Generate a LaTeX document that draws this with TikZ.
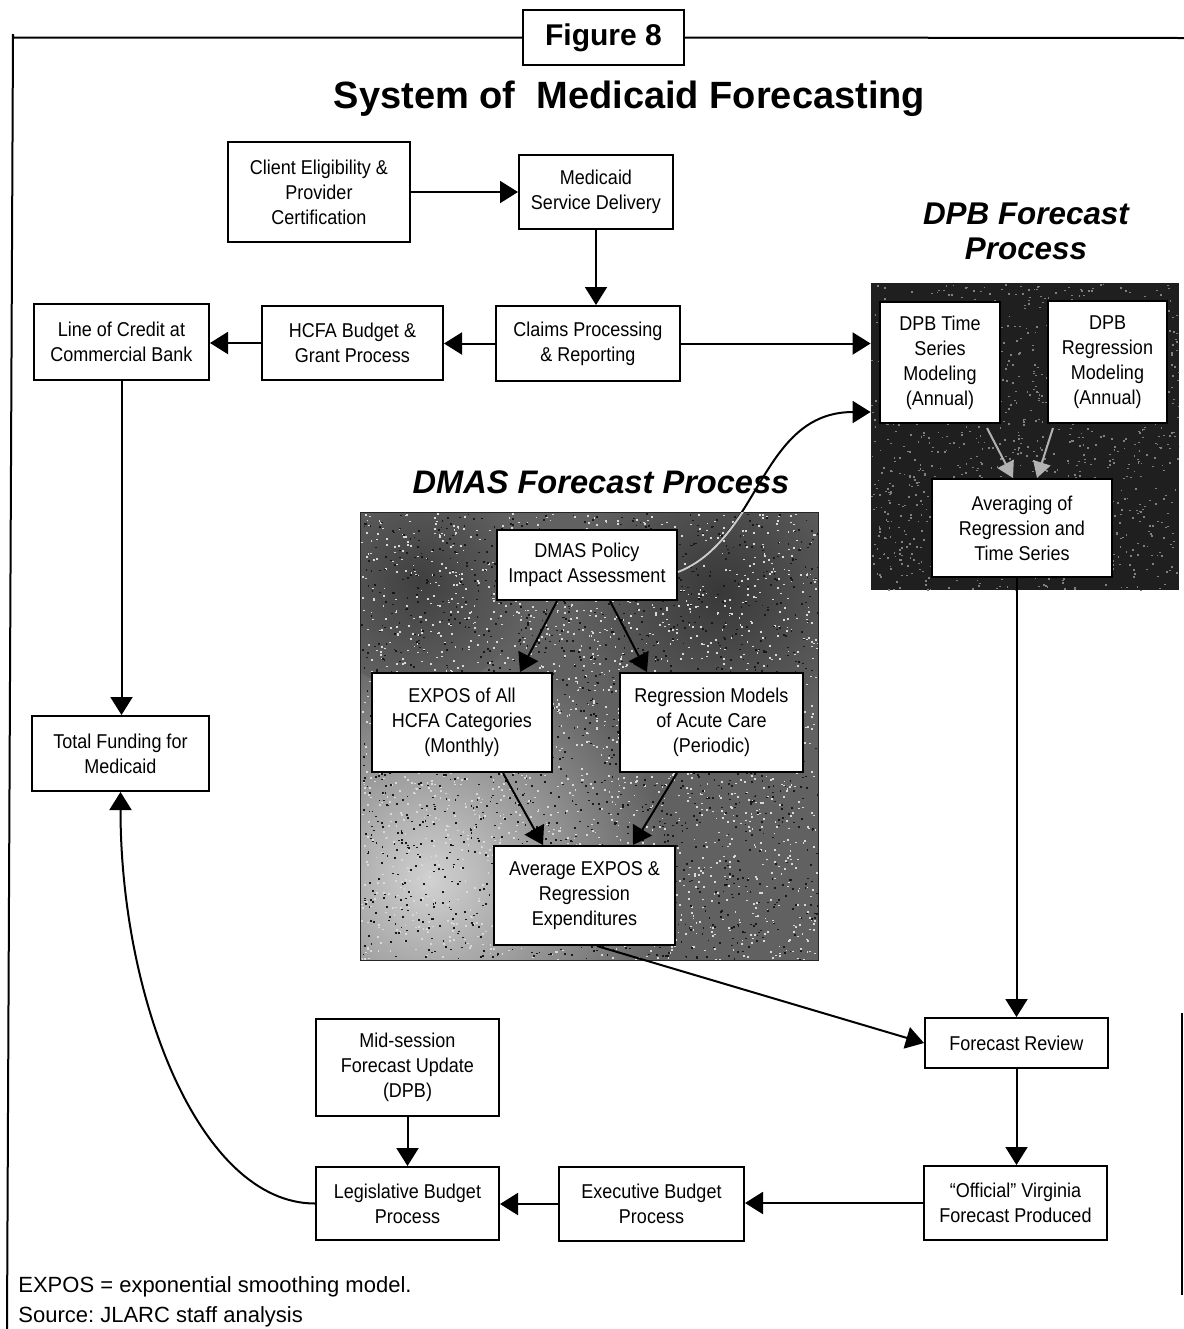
\documentclass[tikz,border=0pt]{standalone}
\usepackage{fontspec}
\setmainfont{Liberation Sans}
\newfontfamily\boxfont{Liberation Sans}[FakeStretch=0.9]
\usetikzlibrary{arrows.meta,calc}
\frenchspacing
\begin{document}
\begin{tikzpicture}[x=0.5pt,y=-0.5pt,
  box/.style={draw,line width=1pt,fill=white,align=center,inner sep=0pt,
    font=\boxfont\fontsize{10}{12.5}\selectfont},
  bx/.style 2 args={box,minimum width=#1*0.5pt,minimum height=#2*0.5pt},
  arr/.style={line width=1pt,-{Triangle[length=9pt,width=11pt]}},
  lightarr/.style={line width=1pt,draw=black!30,-{Triangle[length=8pt,width=9pt,fill=black!30]}},
  frameline/.style={line width=1pt},
  paneln/.style={inner sep=0pt,draw=none}
]
\useasboundingbox (0,0) rectangle (1184,1329);

% ---------- panels ----------
\node[paneln,fill=black!62,minimum width=228.5pt,minimum height=223.5pt] (dmasp) at (589.5,736.5) {};
\begin{scope}
  \clip (dmasp.north west) rectangle (dmasp.south east);
  \shade[inner color=black!18,outer color=black!62] (430,880) circle (240);
  \shade[inner color=black!78,outer color=black!62] (720,590) circle (150);
  \shade[inner color=black!75,outer color=black!62] (420,580) circle (110);
  \pgfmathsetseed{11}
  \foreach \i in {1,...,2200}{
    \pgfmathsetmacro{\rx}{361+457*rnd}
    \pgfmathsetmacro{\ry}{513+447*rnd}
    \fill[white!85!black] (\rx,\ry) rectangle ++(1.8,1.6);
  }
  \foreach \i in {1,...,1800}{
    \pgfmathsetmacro{\rx}{361+457*rnd}
    \pgfmathsetmacro{\ry}{513+447*rnd}
    \fill[black!90] (\rx,\ry) rectangle ++(1.8,1.6);
  }
\end{scope}
\draw[line width=0.8pt,black!85] (dmasp.north west) rectangle (dmasp.south east);

\node[paneln,fill=black!88,minimum width=154pt,minimum height=153.5pt] (dpbp) at (1025,436.5) {};
\begin{scope}
  \clip (dpbp.north west) rectangle (dpbp.south east);
  \pgfmathsetseed{23}
  \foreach \i in {1,...,1200}{
    \pgfmathsetmacro{\rx}{871+308*rnd}
    \pgfmathsetmacro{\ry}{283+307*rnd}
    \fill[white!50!black] (\rx,\ry) rectangle ++(1.8,1.5);
  }
\end{scope}

% ---------- titles ----------
\node[draw,line width=1pt,fill=white,minimum width=80.5pt,minimum height=27.5pt,inner sep=0pt,
  font=\bfseries\fontsize{15}{18}\selectfont] (fig8) at (603.5,37.5) {Figure 8};
\node[font=\bfseries\fontsize{19}{22}\selectfont,anchor=base] (title) at (629.5,108) {System of \ Medicaid Forecasting};
\node[font=\bfseries\itshape\fontsize{16.3}{19}\selectfont,anchor=base] (dmast) at (601,493) {DMAS Forecast Process};
\node[font=\bfseries\itshape\fontsize{15.7}{17.5}\selectfont,align=center] (dpbt) at (1026,231) {DPB Forecast\\Process};

% ---------- boxes ----------
\node[bx={182}{100}] (ce) at (319,192) {Client Eligibility \&\\Provider\\Certification};
\node[bx={154}{74}] (msd) at (596,192) {Medicaid\\Service Delivery};
\node[bx={184}{75}] (cpr) at (588,343.5) {Claims Processing\\\& Reporting};
\node[bx={181}{74}] (hcfa) at (352.5,343) {HCFA Budget \&\\Grant Process};
\node[bx={175}{76}] (loc) at (121.5,342) {Line of Credit at\\Commercial Bank};
\node[bx={120}{121}] (dpbts) at (940,362.5) {DPB Time\\Series\\Modeling\\(Annual)};
\node[bx={119}{122}] (dpbreg) at (1107.5,362) {DPB\\Regression\\Modeling\\(Annual)};
\node[bx={180}{98}] (avg) at (1022,528) {Averaging of\\Regression and\\Time Series};
\node[bx={180}{70}] (pol) at (587,565) {DMAS Policy\\Impact Assessment};
\node[bx={180}{99}] (expos) at (462,722.5) {EXPOS of All\\HCFA Categories\\(Monthly)};
\node[bx={183}{99}] (regm) at (711.5,722.5) {Regression Models\\of Acute Care\\(Periodic)};
\node[bx={181}{99}] (avex) at (584.5,895.5) {Average EXPOS \&\\Regression\\Expenditures};
\node[bx={177}{75}] (tf) at (120.5,753.5) {Total Funding for\\Medicaid};
\node[bx={183}{50}] (fr) at (1016.5,1043) {Forecast Review};
\node[bx={183}{74}] (off) at (1015.5,1203) {“Official” Virginia\\Forecast Produced};
\node[bx={185}{74}] (exe) at (651.5,1204) {Executive Budget\\Process};
\node[bx={183}{73}] (leg) at (407.5,1203.5) {Legislative Budget\\Process};
\node[bx={183}{97}] (mid) at (407.5,1067.5) {Mid-session\\Forecast Update\\(DPB)};

% ---------- connectors ----------
\draw[arr] (ce.east) -- (msd.west);
\draw[arr] (msd.south) -- (msd.south |- cpr.north);
\draw[arr] (cpr.west) -- (cpr.west -| hcfa.east);
\draw[arr] (hcfa.west) -- (hcfa.west -| loc.east);
\draw[arr] (cpr.east) -- (cpr.east -| dpbp.west);
\draw[arr] (loc.south) -- (loc.south |- tf.north);
\draw[arr] ($(pol.south)+(-30,0)$) -- ($(expos.north)+(58,0)$);
\draw[arr] ($(pol.south)+(23,0)$) -- ($(regm.north)+(-64.5,0)$);
\draw[arr] ($(expos.south)+(41,0)$) -- ($(avex.north)+(-41.5,0)$);
\draw[arr] ($(regm.south)+(-34.5,0)$) -- ($(avex.north)+(48.5,0)$);
\draw[lightarr] ($(dpbts.south)+(47,4)$) -- ($(avg.north)+(-9,0)$);
\draw[lightarr] ($(dpbreg.south)+(-54.5,4)$) -- ($(avg.north)+(15,0)$);
\draw[arr] ($(pol.east)+(0,7)$) .. controls (760,540) and (760,412) .. ($(dpbp.west)+(0,-24.5)$);
\begin{scope}
  \clip (dmasp.north west) rectangle (dmasp.south east);
  \draw[line width=1pt,white!80!black] ($(pol.east)+(0,7)$) .. controls (760,540) and (760,412) .. ($(dpbp.west)+(0,-24.5)$);
\end{scope}
\draw[arr] ($(avex.south)+(12.5,0)$) -- (fr.west);
\draw[arr] (fr.north |- avg.south) -- (fr.north);
\draw[arr] (fr.south) -- (fr.south |- off.north);
\draw[arr] (off.west) -- (off.west -| exe.east);
\draw[arr] (exe.west) -- (exe.west -| leg.east);
\draw[arr] (mid.south) -- (leg.north);
\draw[arr] (leg.west) .. controls (200,1203.5) and (120.5,1000) .. (tf.south);

% ---------- frame ----------
\coordinate (ftl) at (13,34);
\coordinate (fbl) at (7,1329);
\coordinate (ftr) at (1184,38);
\coordinate (frt) at (1182,1013);
\coordinate (frb) at (1182,1295);
\draw[frameline] (fig8.west) -- (fig8.west -| ftl) -- (ftl) -- (fbl);
\draw[frameline] (fig8.east) -- (ftr);
\draw[frameline] (frt) -- (frb);

% ---------- footnotes ----------
\node[anchor=base west,inner sep=0pt,font=\fontsize{11}{13}\selectfont] (fn1) at (18,1292) {EXPOS = exponential smoothing model.};
\node[anchor=base west,inner sep=0pt,font=\fontsize{11}{13}\selectfont] (fn2) at (18,1322) {Source: JLARC staff analysis};
\end{tikzpicture}
\end{document}
